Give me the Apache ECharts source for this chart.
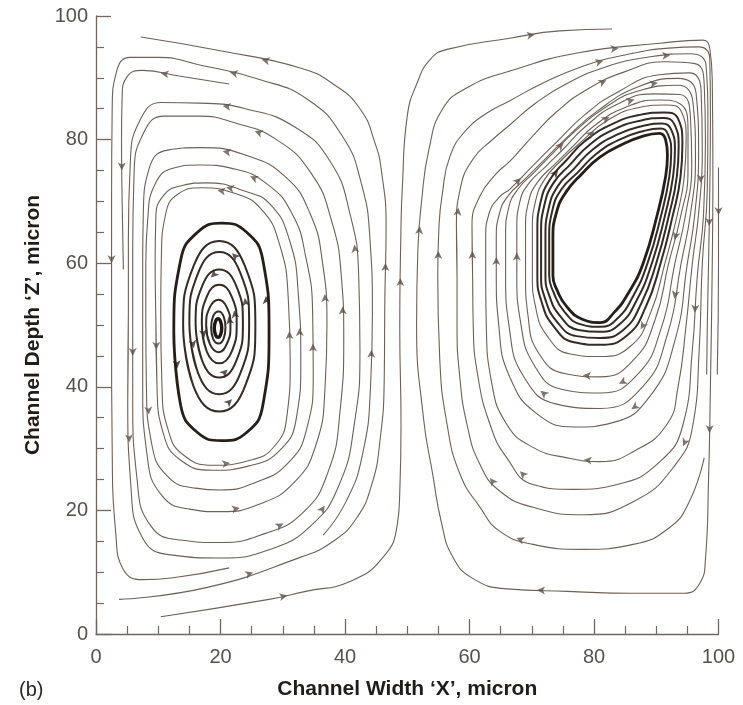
<!DOCTYPE html>
<html><head><meta charset="utf-8">
<script src="https://cdn.jsdelivr.net/npm/echarts@6/dist/echarts.min.js"></script>
<style>html,body{margin:0;padding:0;background:#fff}#c{width:743px;height:705px}</style>
</head><body><div id="c"></div>
<script>
// ---- axes ----
const xTickValues = [0, 20, 40, 60, 80, 100];
const yTickValues = [0, 20, 40, 60, 80, 100];
const xTitle = 'Channel Width \u2018X\u2019, micron';
const yTitle = 'Channel Depth \u2018Z\u2019, micron';
const panelLabel = '(b)';

// ---- left vortex (counter-clockwise) : [x, z] in micron ----
const LV_R1 = [[19.0,49.5],[19.2,48.4],[19.6,48.0],[20.0,48.4],[20.2,49.5],[20.0,50.6],[19.6,51.0],[19.2,50.6],[19.0,49.5]];
const LV_R2 = [[18.5,49.6],[18.8,47.8],[19.7,47.0],[20.5,47.8],[20.8,49.6],[20.5,51.4],[19.7,52.2],[18.8,51.4],[18.5,49.6]];
const LV_R3 = [[17.7,49.9],[18.3,46.9],[19.7,45.6],[21.0,46.9],[21.6,49.9],[21.0,52.9],[19.7,54.1],[18.3,52.9],[17.7,49.9]];
const LV_R4 = [[17.0,50.2],[17.8,45.7],[19.8,43.8],[21.8,45.7],[22.6,50.2],[21.8,54.6],[19.8,56.5],[17.8,54.6],[17.0,50.2]];
const LV_R5 = [[16.0,50.3],[17.1,44.1],[19.8,41.5],[22.5,44.1],[23.6,50.3],[22.5,56.4],[19.8,59.0],[17.1,56.4],[16.0,50.3]];
const LV_R6 = [[15.0,50.3],[16.4,42.2],[19.8,38.8],[23.2,42.2],[24.6,50.3],[23.2,58.4],[19.8,61.8],[16.4,58.4],[15.0,50.3]];
const LV_R7 = [[14.0,49.8],[15.7,40.0],[19.8,36.0],[23.9,40.0],[25.6,49.8],[23.9,59.6],[19.8,63.6],[15.7,59.6],[14.0,49.8]];
const LV_R8 = [[12.5,48.9],[13.6,37],[16.3,32.6],[20.2,31.3],[24.2,32.6],[26.8,37],[27.8,48.9],[26.8,60.5],[24.2,65],[20.2,66.5],[16.3,65],[13.6,60.5],[12.5,48.9]];
const LV_M1 = [[10.4,52],[10.6,40],[11.6,33],[14,29],[18.8,27.3],[24.3,28],[28.6,30.3],[30.7,35.5],[31.2,44],[30.9,54],[29.5,63],[26.5,68.8],[22,71.4],[17,72.2],[13.2,71.2],[11.2,68],[10.5,61],[10.4,52]];
const LV_M2 = [[9.6,52],[9.8,40],[10.8,32.5],[13.5,28.2],[18.8,26.5],[24.6,27.2],[29.6,29.8],[32.2,35],[32.9,44],[32.5,55],[31,64],[28,69.5],[24.1,71.6],[17.7,73.0],[14,72.6],[10.8,70.9],[9.6,67],[9.5,60],[9.6,52]];
const LV_M3 = [[8.0,52],[8.1,40],[8.9,31],[11.5,25.5],[16,23.6],[20,23.3],[25.8,24.6],[30.8,27.6],[33.8,33],[34.9,42],[34.8,52],[33.7,61],[31.5,68],[27.5,72.8],[22,75.3],[16.7,75.9],[12.5,75.4],[9.6,73],[8.3,67],[8.0,60],[8.0,52]];
const LV_M4 = [[7.5,52],[7.5,40],[8.2,29],[10.5,22.5],[15,20.2],[20,19.8],[26.2,21],[31.8,24.5],[35.3,30.5],[36.8,40],[37.1,50],[36.4,60],[34.4,68],[30.4,74],[24,77.5],[16.7,78.7],[11.5,78.3],[8.6,75.5],[7.6,68],[7.5,60],[7.5,52]];
const LV_M5 = [[5.9,52],[5.9,38],[6.6,25],[8.8,17.5],[13.5,15.2],[20,14.8],[27,16.2],[33.2,19.6],[37.2,26],[39.2,36],[39.8,48],[39.4,58],[37.8,67],[34.6,74.5],[29,80],[22,82.8],[16.7,83.8],[11,83.8],[7.6,81],[6.1,74],[5.9,62],[5.9,52]];
const LV_M6 = [[5.2,52],[5.1,38],[5.6,24],[7.5,15.5],[12,12.8],[20,12.3],[28,13.7],[34.5,17.5],[39,24],[41.5,34],[42.4,46],[42.2,58],[40.8,68],[37.6,76.5],[32,82],[24,85],[16.7,85.9],[10.5,86],[7,83],[5.5,76],[5.2,64],[5.2,52]];
const LV_M7 = [[36.5,16],[40.2,21.5],[42.8,29],[44.1,40],[44.4,52],[44,64],[42.6,73],[39.6,80.5],[34,86.5],[26,89.8],[17,92],[10,93.3],[5.5,93.3],[3.3,91],[2.6,85],[2.5,70],[2.5,50],[2.6,30],[3.2,16],[4.3,10.6],[7.5,8.8],[12.4,9.1],[21.4,10.7]];
const LV_O1 = [[21.4,89],[13.3,90.3],[7.5,91.2],[5,90.2],[4.2,87],[4.1,80],[4.2,70],[4.4,59]];
const LV_LA = [[3.7,5.6],[17.7,7.5],[32.8,12.4],[38.1,15],[41.9,18.8],[44.3,24.2],[45.6,31.1],[46.3,41.2],[46.4,54.1],[46.6,66],[45.9,74.6],[44.8,79.5],[42.4,85],[38.1,89],[32.8,91.6],[20.4,94.3],[7.2,96.6]];
const LV_LB = [[10.4,2.8],[27.8,5.6],[33.7,6.9],[40.8,8.5],[46.1,12.4],[48.4,17.7],[48.8,23],[49,33.9],[48.8,49.2],[49,66],[49.2,72],[50,83.8],[51.6,89.2],[53.7,93],[56.4,94.6],[66.5,96.4],[74.5,97.6],[82.9,97.9]];

// ---- right vortex (clockwise) ----
const RV_H  = [[73.4,58],[73.4,64],[74,68.3],[75.5,71.5],[78,74.4],[81,77.2],[84.5,79.2],[88,80.6],[90.5,81],[91.5,80],[91.8,77.5],[91.5,74],[90.2,68],[87.9,60],[85.6,55.3],[83.2,52],[81,50.4],[78.2,50.9],[75.6,53],[74,55.8],[73.4,58]];
const RV_B1 = [[72.8,58],[72.8,64],[73.3,68.5],[74.8,72],[77.4,74.7],[80.4,77.7],[84.1,80],[88,81.4],[90.7,81.8],[91.9,80.8],[92.4,78],[92.1,74],[90.8,67.8],[88.6,60],[86.3,54.7],[83.7,51],[81,49.7],[77.9,50.1],[75.2,52.2],[73.5,55.3],[72.8,58]];
const RV_B2 = [[72.2,58],[72.2,64.3],[72.7,68.8],[74.2,72.5],[76.8,75.3],[79.8,78.4],[83.7,80.8],[87.8,82.2],[90.9,82.6],[92.4,81.6],[93,78.3],[92.7,74],[91.4,67.7],[89.3,60],[86.9,54.1],[84.2,50.2],[81,48.9],[77.5,49.2],[74.6,51.4],[72.8,54.8],[72.2,58]];
const RV_B3 = [[71.5,58],[71.5,64.8],[72,69.3],[73.5,73],[76.2,76],[79.2,79.1],[83.3,81.7],[87.6,83.1],[91.1,83.5],[92.9,82.5],[93.6,78.8],[93.3,74],[92,67.6],[90,60],[87.6,53.5],[84.7,49.2],[81,47.9],[77.2,48.2],[74,50.6],[72.1,54.4],[71.5,58]];
const RV_B4 = [[70.9,58],[70.9,65.2],[71.4,69.8],[72.9,73.5],[75.6,76.7],[78.6,79.8],[82.9,82.5],[87.4,84],[91.3,84.4],[93.5,83.4],[94.2,79.3],[93.9,74],[92.6,67.5],[90.7,60],[88.3,52.9],[85.3,48.3],[81,46.8],[76.8,47.2],[73.5,49.8],[71.5,54],[70.9,58]];
const RV_K3 = [[70.1,58],[70.1,65.5],[70.6,70],[72.1,73.6],[74.8,76.7],[77.8,79.5],[82.3,83.2],[87.3,85.2],[91.5,85.6],[94,84.6],[94.8,80],[94.5,74],[93.3,67.5],[91.4,60],[89.1,52],[85.9,46.6],[81,44.9],[76.2,45.3],[72.5,48.2],[70.6,53],[70.1,58]];
const RV_K4 = [[69,58],[69,65.5],[69.5,70],[71,73.2],[73.6,75.9],[76.6,78.9],[80,82.2],[85,85.2],[90.5,86.4],[93.8,85.8],[95.1,81.5],[95.1,75],[93.9,67.5],[92,60],[89.8,50.8],[86.3,44.3],[81,41.6],[75.4,42.1],[71.2,45.3],[69.4,51.5],[69,58]];
const RV_K5 = [[67.6,58],[67.6,65.5],[68.1,70],[69.6,73],[72.2,75.6],[75.2,78.6],[78.5,82],[83.5,85.6],[89.5,87.4],[93.8,87.3],[95.5,83.5],[95.7,76],[94.7,67.8],[93,60],[90.8,49.5],[87,42],[81,39],[74.8,39.6],[70.4,43.5],[68.2,50.5],[67.6,58]];
const RV_K6 = [[65.8,58],[65.8,64.5],[66.3,69],[67.8,72],[70.4,74.7],[73.4,77.8],[76.8,81.2],[81.5,85],[87.5,88],[93.5,88.8],[95.9,86],[96.3,77],[95.5,68],[94,60],[91.8,48.5],[87.8,40],[81,36.5],[74,37.2],[68.8,41.5],[66.4,49.5],[65.8,58]];
const RV_K7 = [[64.3,58],[64.3,64],[64.8,68],[66.2,70.9],[68.9,73.6],[71.9,76.6],[75.5,80.2],[80.5,84.6],[87,88.5],[93.5,89.9],[96.4,87.5],[96.8,78],[96.2,68],[95,60],[93,47.5],[89,38.5],[83,34.2],[77,33.5],[71,35.5],[66.5,41.5],[64.7,50],[64.3,58]];
const RV_K8 = [[62.6,58],[62.6,64],[63.2,68.2],[64.9,70.8],[66.5,72],[70,75.6],[74,79.6],[78.5,84],[84,87.8],[90.5,90.5],[95.3,90.8],[97.2,88],[97.4,78],[96.8,68],[95.8,60],[94.8,50],[93.5,40],[91.7,33.9],[86.3,29.5],[81,27.9],[75.7,28.5],[70.2,30.2],[66,33.9],[63.5,41],[62.7,50],[62.6,58]];
const RV_K9 = [[60.5,58],[60.4,66],[61.7,70.9],[64.4,74.6],[66.5,76.5],[70,80.4],[74,84.5],[79,88.2],[85,91],[91.5,92.6],[96.2,92.3],[97.7,89],[97.9,80],[97.6,68],[96.6,58],[95.8,46],[94.3,33.9],[90.6,27.9],[83.7,24.2],[76.6,23.4],[70.2,24.2],[66,28.5],[63.3,33.9],[61.3,42],[60.6,50],[60.5,58]];
const RV_K10 = [[58,58],[57.9,66],[58.5,72],[60.6,76.9],[63.8,80.1],[66.5,82.4],[70.5,85.8],[75.5,89],[82,91.8],[89,93.4],[95.5,93.9],[98,92],[98.3,84],[98.2,72],[97.4,60],[96.9,46],[95.9,33.9],[92.7,26.9],[86.3,21.4],[78.2,19.3],[70.2,20.5],[64.9,23.1],[61.7,27.4],[59.6,33.9],[58.4,42],[58,50],[58,58]];
const RV_K11 = [[97.7,28.5],[95.3,21.4],[92.1,17.2],[86.3,14.5],[78.2,13.7],[70.2,14.5],[64.9,16.6],[61.7,20.5],[58.5,25.8],[56.4,33.9],[55.2,45],[54.9,58],[55.1,66],[55.6,71],[56.9,77.4],[59.6,81.7],[62.8,84.3],[66.5,86.3],[71.5,89],[78,91.8],[85,93.7],[92,94.8],[96.8,95],[98.6,93],[98.7,84],[98.6,72],[98.4,60],[98.2,50],[98.1,42]];
const RV_K12 = [[51.5,50],[51.7,62],[52.3,70],[53.5,78.5],[55.7,85],[59.6,88.4],[66.5,91.1],[77.3,94],[90.6,95.6],[97.5,96.1],[98.6,94.7],[99,89.2],[99.1,75],[99,60],[98.7,40],[98.4,25],[97.9,12],[97,8.2],[94.5,6.6],[86,6.6],[75.7,6.9],[66,7.3],[60.5,9],[57.3,12.5],[55.5,18],[54.1,25.8],[52.6,35],[51.5,50]];
const RV_S1 = [[100,75.5],[100,60],[99.8,42]];

// which lines, how they are drawn, where arrows sit (segment index along the line)
const lines = [
  {pts: LV_R1, closed: true, kind: 'dot',  arrows: []},
  {pts: LV_R2, closed: true, kind: 'dark', arrows: []},
  {pts: LV_R3, closed: true, kind: 'dark', arrows: [4]},
  {pts: LV_R4, closed: true, kind: 'dark', arrows: [0, 4]},
  {pts: LV_R5, closed: true, kind: 'dark', arrows: [2, 6]},
  {pts: LV_R6, closed: true, kind: 'dark', arrows: [0, 4]},
  {pts: LV_R7, closed: true, kind: 'dark', arrows: [2, 5]},
  {pts: LV_R8, closed: true, kind: 'bold', arrows: [0, 6]},
  {pts: LV_M1, closed: true, kind: 'thin', arrows: [4, 8, 12]},
  {pts: LV_M2, closed: true, kind: 'thin', arrows: [0, 8, 12]},
  {pts: LV_M3, closed: true, kind: 'thin', arrows: [1, 9, 13]},
  {pts: LV_M4, closed: true, kind: 'thin', arrows: [5, 10, 14]},
  {pts: LV_M5, closed: true, kind: 'thin', arrows: [0, 6, 10, 14]},
  {pts: LV_M6, closed: true, kind: 'thin', arrows: [1, 7, 11, 15]},
  {pts: LV_M7, closed: false, kind: 'thin', arrows: [3, 9, 15]},
  {pts: LV_O1, closed: false, kind: 'thin', arrows: [1, 5]},
  {pts: LV_LA, closed: false, kind: 'thin', arrows: [1, 8, 14]},
  {pts: LV_LB, closed: false, kind: 'thin', arrows: [1, 8, 15]},
  {pts: RV_H,  closed: true, kind: 'bold', arrows: []},
  {pts: RV_B1, closed: true, kind: 'dark', arrows: []},
  {pts: RV_B2, closed: true, kind: 'dark', arrows: []},
  {pts: RV_B3, closed: true, kind: 'dark', arrows: []},
  {pts: RV_B4, closed: true, kind: 'dark', arrows: [3]},
  {pts: RV_K3, closed: true, kind: 'thin', arrows: [5, 14]},
  {pts: RV_K4, closed: true, kind: 'thin', arrows: [6, 12, 16]},
  {pts: RV_K5, closed: true, kind: 'thin', arrows: [0, 7, 15]},
  {pts: RV_K6, closed: true, kind: 'thin', arrows: [5, 13, 17]},
  {pts: RV_K7, closed: true, kind: 'thin', arrows: [0, 8, 15]},
  {pts: RV_K8, closed: true, kind: 'thin', arrows: [4, 12, 19]},
  {pts: RV_K9, closed: true, kind: 'thin', arrows: [0, 7, 14, 20]},
  {pts: RV_K10, closed: true, kind: 'thin', arrows: [1, 9, 16, 21]},
  {pts: RV_K11, closed: false, kind: 'thin', arrows: [5, 11, 19, 25]},
  {pts: RV_K12, closed: true, kind: 'thin', arrows: [1, 7, 14, 20]},
  {pts: RV_S1, closed: false, kind: 'thin', arrows: [0]}
];

const kinds = {
  thin: {color: '#6d6057', width: 1.1, arrow: '#5e5249'},
  dark: {color: '#352b25', width: 2.0, arrow: '#352b25'},
  bold: {color: '#261e19', width: 2.8, arrow: '#261e19'},
  dot:  {color: '#1e1713', width: 3.4, arrow: '#1e1713'}
};

const series = [];
const arrowData = [];
lines.forEach(function (ln) {
  const data = ln.closed ? ln.pts.concat([ln.pts[1]]) : ln.pts;
  const st = kinds[ln.kind];
  series.push({
    type: 'line', data: data, smooth: 0.5, symbol: 'none', clip: false, silent: true,
    lineStyle: {color: st.color, width: st.width}, z: 2
  });
  ln.arrows.forEach(function (i) {
    const p = ln.pts[i], q = ln.pts[i + 1];
    const ang = Math.atan2(q[1] - p[1], q[0] - p[0]) * 180 / Math.PI;
    arrowData.push({value: [(p[0] + q[0]) / 2, (p[1] + q[1]) / 2], symbolRotate: ang - 90,
      itemStyle: {color: st.arrow}});
  });
});
series.push({type: 'scatter', data: arrowData, symbol: 'arrow', symbolSize: [6, 8], clip: false, silent: true, z: 3});

const axisColor = '#6f6760';
const labelStyle = {fontSize: 20, color: '#55514d', fontFamily: 'Liberation Sans'};
const titleStyle = {fontSize: 21, fontWeight: 'bold', color: '#1f1c1a', fontFamily: 'Liberation Sans'};

const chart = echarts.init(document.getElementById('c'), null, {renderer: 'canvas'});
chart.setOption({
  animation: false,
  grid: {left: 96, right: 24.5, top: 16, bottom: 70.5, containLabel: false},
  xAxis: {
    type: 'value', min: xTickValues[0], max: xTickValues[xTickValues.length - 1], interval: 20,
    name: xTitle, nameLocation: 'middle', nameGap: 45, nameTextStyle: titleStyle,
    axisLine: {show: true, onZero: false, lineStyle: {color: axisColor, width: 1.3}},
    axisTick: {show: true, inside: true, length: 15, lineStyle: {color: axisColor, width: 1.3}},
    minorTick: {show: true, splitNumber: 4, length: 8, lineStyle: {color: axisColor, width: 1.2}},
    splitLine: {show: false},
    axisLabel: Object.assign({margin: 13}, labelStyle)
  },
  yAxis: {
    type: 'value', min: yTickValues[0], max: yTickValues[yTickValues.length - 1], interval: 20,
    name: yTitle, nameLocation: 'middle', nameGap: 51, nameTextStyle: titleStyle,
    axisLine: {show: true, onZero: false, lineStyle: {color: axisColor, width: 1.3}},
    axisTick: {show: true, inside: true, length: 15, lineStyle: {color: axisColor, width: 1.3}},
    minorTick: {show: true, splitNumber: 4, length: 8, lineStyle: {color: axisColor, width: 1.2}},
    splitLine: {show: false},
    axisLabel: Object.assign({margin: 8}, labelStyle)
  },
  graphic: [{type: 'text', left: 19, top: 680, style: {text: panelLabel, fontSize: 20, fill: '#2a2725', fontFamily: 'Liberation Sans'}}],
  series: series
});
</script>
</body></html>
